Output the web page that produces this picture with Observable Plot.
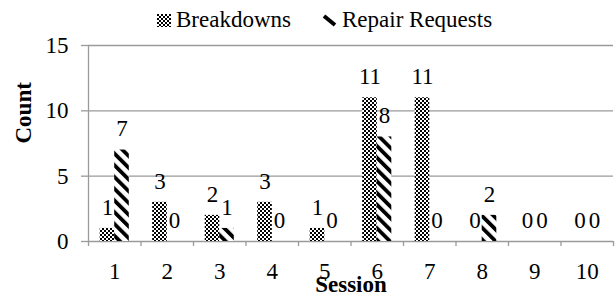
<!DOCTYPE html>
<html>
<head>
<meta charset="utf-8">
<script src="https://cdn.jsdelivr.net/npm/d3@7"></script>
<script src="https://cdn.jsdelivr.net/npm/@observablehq/plot@0.6"></script>
<style>
  html, body { margin: 0; padding: 0; background: #fff; }
  body { width: 615px; height: 299px; overflow: hidden; font-family: "Liberation Serif", "Times New Roman", serif; }
  #legend { height: 30px; box-sizing: border-box; padding-top: 10px; padding-left: 157px; display: flex; align-items: flex-start; font-size: 23px; line-height: 20px; color: #000; white-space: nowrap; }
  #legend .item { display: flex; align-items: center; height: 20px; }
  #legend svg { display: block; margin-right: 5px; }
  #chart svg { display: block; overflow: visible; }
</style>
</head>
<body>
<svg width="0" height="0" style="position:absolute">
  <defs>
    <pattern id="checker" width="4" height="4" patternUnits="userSpaceOnUse">
      <rect width="4" height="4" fill="#fff"></rect>
      <rect x="0" y="0" width="2" height="2" fill="#000"></rect>
      <rect x="2" y="2" width="2" height="2" fill="#000"></rect>
    </pattern>
    <pattern id="stripes" width="8.3" height="8.3" patternUnits="userSpaceOnUse" patternTransform="rotate(-45)">
      <rect width="8.3" height="8.3" fill="#fff"></rect>
      <rect x="0" y="0" width="3.8" height="8.3" fill="#000"></rect>
    </pattern>
  </defs>
</svg>
<div id="legend">
  <div class="item"><svg width="14" height="13"><rect width="14" height="13" fill="url(#checker)"></rect></svg><span>Breakdowns</span></div>
  <div class="item" style="margin-left:31px"><svg width="15" height="13"><line x1="2" y1="2" x2="13" y2="11" stroke="#000" stroke-width="4"></line></svg><span>Repair Requests</span></div>
</div>
<div id="chart"></div>
<script>
const sessions = [1, 2, 3, 4, 5, 6, 7, 8, 9, 10];
const breakdowns = [1, 3, 2, 3, 1, 11, 11, 0, 0, 0];
const repairRequests = [7, 0, 1, 0, 0, 8, 0, 2, 0, 0];
const yTicks = [0, 5, 10, 15];

const rows = sessions.map((s, i) => ({session: s, breakdowns: breakdowns[i], repairs: repairRequests[i]}));
const boundaries = sessions.map(s => s - 0.5).concat([sessions[sessions.length - 1] + 0.5]);

const font = "Liberation Serif, Times New Roman, serif";
const grid = "#9a9a9a";
const fs = 23;

const chart = Plot.plot({
  width: 615,
  height: 269,
  marginTop: 15,
  marginBottom: 58,
  marginLeft: 88,
  marginRight: 2,
  style: {fontFamily: font, fontSize: fs + "px", color: "#000", background: "#fff", overflow: "visible"},
  x: {domain: [boundaries[0], boundaries[boundaries.length - 1]], axis: null},
  y: {domain: [0, 15], axis: null},
  marks: [
    Plot.gridY(yTicks, {stroke: grid, strokeOpacity: 1, strokeWidth: 1.3}),
    Plot.ruleX([boundaries[0]], {stroke: grid, strokeWidth: 1.3}),
    Plot.axisY({ticks: yTicks, tickSize: 7, tickPadding: 13, stroke: grid, strokeWidth: 1.3, fontSize: fs, label: null, fill: "#000"}),
    Plot.axisX({ticks: boundaries, tickSize: 5, tickFormat: () => "", stroke: grid, strokeWidth: 1.3, label: null}),
    Plot.axisX({ticks: sessions, tickSize: 0, tickPadding: 21, fontSize: fs, label: null, fill: "#000"}),
    Plot.rectY(rows, {x1: d => d.session - 0.5, x2: d => d.session + 0.5, y: "breakdowns", fill: "url(#checker)", insetLeft: 11.7, insetRight: 26.2}),
    Plot.rectY(rows, {x1: d => d.session - 0.5, x2: d => d.session + 0.5, y: "repairs", fill: "url(#stripes)", insetLeft: 26.2, insetRight: 11.7}),
    Plot.text(rows, {x: "session", y: "breakdowns", text: d => String(d.breakdowns), dx: -7.25, dy: -21, fontSize: fs, fill: "#000"}),
    Plot.text(rows, {x: "session", y: "repairs", text: d => String(d.repairs), dx: 7.25, dy: -21, fontSize: fs, fill: "#000"}),
    Plot.text(["Count"], {frameAnchor: "left", rotate: -90, dx: -65, fontSize: fs, fontWeight: "bold", fill: "#000"}),
    Plot.text(["Session"], {frameAnchor: "bottom", dy: 50, fontSize: fs, fontWeight: "bold", fill: "#000"})
  ]
});
document.getElementById("chart").appendChild(chart);
</script>
</body>
</html>
